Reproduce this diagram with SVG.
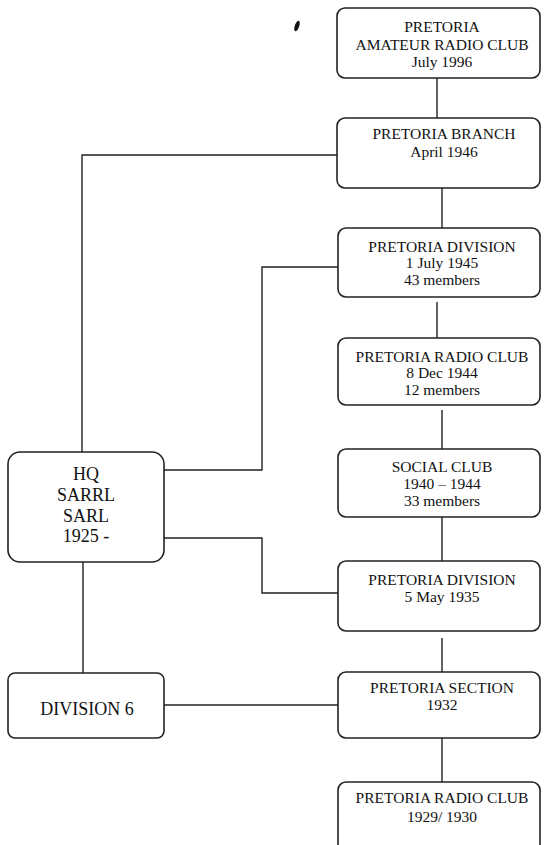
<svg xmlns="http://www.w3.org/2000/svg" width="544" height="845" viewBox="0 0 544 845">
<style>
.box{fill:#fff;stroke:#222;stroke-width:1.6}
.ln{fill:none;stroke:#222;stroke-width:1.4}
text{font-family:"Liberation Serif","Times New Roman",serif;fill:#111;text-anchor:middle}
.s{font-size:15.5px}
.l{font-size:18px}
</style>
<rect width="544" height="845" fill="#fff"/>
<ellipse cx="297" cy="26" rx="2.2" ry="5.5" transform="rotate(20 297 26)" fill="#111"/>
<g id="connectors">
<path class="ln" d="M437 78V118"/>
<path class="ln" d="M442 188V228"/>
<path class="ln" d="M437 302V338"/>
<path class="ln" d="M442 410V449"/>
<path class="ln" d="M442 517V561"/>
<path class="ln" d="M442 638V672"/>
<path class="ln" d="M442 738V782"/>
<path class="ln" d="M338 155H82V452"/>
<path class="ln" d="M338 267H262V470H164"/>
<path class="ln" d="M164 538H262V593H338"/>
<path class="ln" d="M83 562V673"/>
<path class="ln" d="M164 705H338"/>
</g>
<g id="n1"><rect class="box" x="337" y="8" width="203" height="70" rx="8"/>
<text class="s" x="442" y="32">PRETORIA</text><text class="s" x="442" y="50">AMATEUR RADIO CLUB</text><text class="s" x="442" y="67">July 1996</text></g>
<g id="n2"><rect class="box" x="337" y="118" width="203" height="70" rx="8"/>
<text class="s" x="444" y="139">PRETORIA BRANCH</text><text class="s" x="444" y="157">April 1946</text></g>
<g id="n3"><rect class="box" x="338" y="228" width="202" height="69" rx="8"/>
<text class="s" x="442" y="252">PRETORIA DIVISION</text><text class="s" x="442" y="268">1 July 1945</text><text class="s" x="442" y="285">43 members</text></g>
<g id="n4"><rect class="box" x="338" y="338" width="202" height="67" rx="8"/>
<text class="s" x="442" y="362">PRETORIA RADIO CLUB</text><text class="s" x="442" y="378">8 Dec 1944</text><text class="s" x="442" y="395">12 members</text></g>
<g id="n5"><rect class="box" x="338" y="449" width="202" height="68" rx="8"/>
<text class="s" x="442" y="472">SOCIAL CLUB</text><text class="s" x="442" y="489">1940 – 1944</text><text class="s" x="442" y="506">33 members</text></g>
<g id="n6"><rect class="box" x="338" y="561" width="202" height="70" rx="8"/>
<text class="s" x="442" y="585">PRETORIA DIVISION</text><text class="s" x="442" y="602">5 May 1935</text></g>
<g id="n7"><rect class="box" x="338" y="672" width="202" height="66" rx="8"/>
<text class="s" x="442" y="693">PRETORIA SECTION</text><text class="s" x="442" y="710">1932</text></g>
<g id="n8"><rect class="box" x="338" y="782" width="202" height="70" rx="8"/>
<text class="s" x="442" y="803">PRETORIA RADIO CLUB</text><text class="s" x="442" y="822">1929/ 1930</text></g>
<g id="hq"><rect class="box" x="8" y="452" width="156" height="110" rx="12"/>
<text class="l" x="86" y="480">HQ</text><text class="l" x="86" y="501">SARRL</text><text class="l" x="86" y="522">SARL</text><text class="l" x="86" y="542">1925 -</text></g>
<g id="div6"><rect class="box" x="8" y="673" width="156" height="65" rx="7"/>
<text class="l" x="87" y="715">DIVISION 6</text></g>
</svg>
